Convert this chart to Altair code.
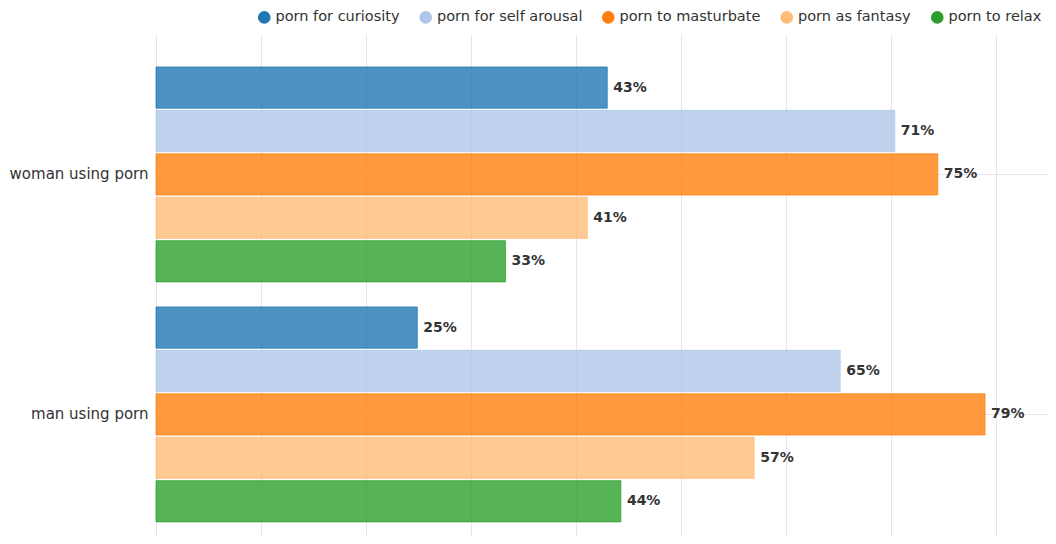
import altair as alt
import pandas as pd

groups = ["woman using porn", "man using porn"]
series = ["porn for curiosity", "porn for self arousal", "porn to masturbate",
          "porn as fantasy", "porn to relax"]
colors = ["#1f77b4", "#aec7e8", "#ff7f0e", "#ffbb78", "#2ca02c"]
# bar lengths
woman_values = [43.0, 70.4, 74.5, 41.1, 33.3]
man_values = [24.9, 65.2, 79.0, 57.0, 44.3]
# printed value labels
woman_labels = ["43%", "71%", "75%", "41%", "33%"]
man_labels = ["25%", "65%", "79%", "57%", "44%"]

rows = []
for g, vals, labs in zip(groups, [woman_values, man_values], [woman_labels, man_labels]):
    for s, v, l in zip(series, vals, labs):
        rows.append({"group": g, "series": s, "value": v, "label": l})
df = pd.DataFrame(rows)

FONT = "DejaVu Sans"

y_enc = alt.Y("group:N", sort=groups, title=None,
              scale=alt.Scale(paddingInner=0.104, paddingOuter=0.098, align=0.70),
              axis=alt.Axis(labelFont=FONT, labelFontSize=15, labelColor="#333333",
                            ticks=False, domain=False, labelPadding=8,
                            grid=True, gridColor="#e6e6e6"))
yoff_enc = alt.YOffset("series:N", sort=series,
                       scale=alt.Scale(paddingInner=0.05, paddingOuter=0))
x_enc = alt.X("value:Q", title=None,
              scale=alt.Scale(domain=[0, 85], nice=False),
              axis=alt.Axis(labels=False, ticks=False, domain=False,
                            values=[0, 10, 20, 30, 40, 50, 60, 70, 80],
                            gridColor="#e6e6e6"))

bars = alt.Chart(df).mark_bar(fillOpacity=0.8, strokeWidth=0.8, strokeOpacity=0.9).encode(
    x=x_enc,
    y=y_enc,
    yOffset=yoff_enc,
    color=alt.Color("series:N", sort=series,
                    scale=alt.Scale(domain=series, range=colors),
                    legend=alt.Legend(orient="none", legendX=101, legendY=-24,
                                      direction="horizontal", title=None,
                                      symbolType="circle", symbolSize=160,
                                      symbolStrokeWidth=0, symbolOpacity=1,
                                      labelFont=FONT, labelFontSize=14.5,
                                      labelColor="#333333", labelOffset=4,
                                      columnPadding=18.5)),
    stroke=alt.Stroke("series:N", sort=series,
                      scale=alt.Scale(domain=series, range=colors), legend=None),
)

labels = alt.Chart(df).mark_text(align="left", baseline="middle", dx=6,
                                 font=FONT, fontSize=14, fontWeight="bold",
                                 color="#333333").encode(
    x="value:Q",
    y=alt.Y("group:N", sort=groups),
    yOffset=alt.YOffset("series:N", sort=series),
    text="label:N",
)

chart = alt.layer(bars, labels).properties(
    width=892, height=502,
    autosize=alt.AutoSizeParams(type="none"),
    padding={"left": 148, "top": 26, "right": 0, "bottom": 0},
).configure_view(stroke=None)

chart.save("out.html", embed_options={"renderer": "svg", "actions": False})
